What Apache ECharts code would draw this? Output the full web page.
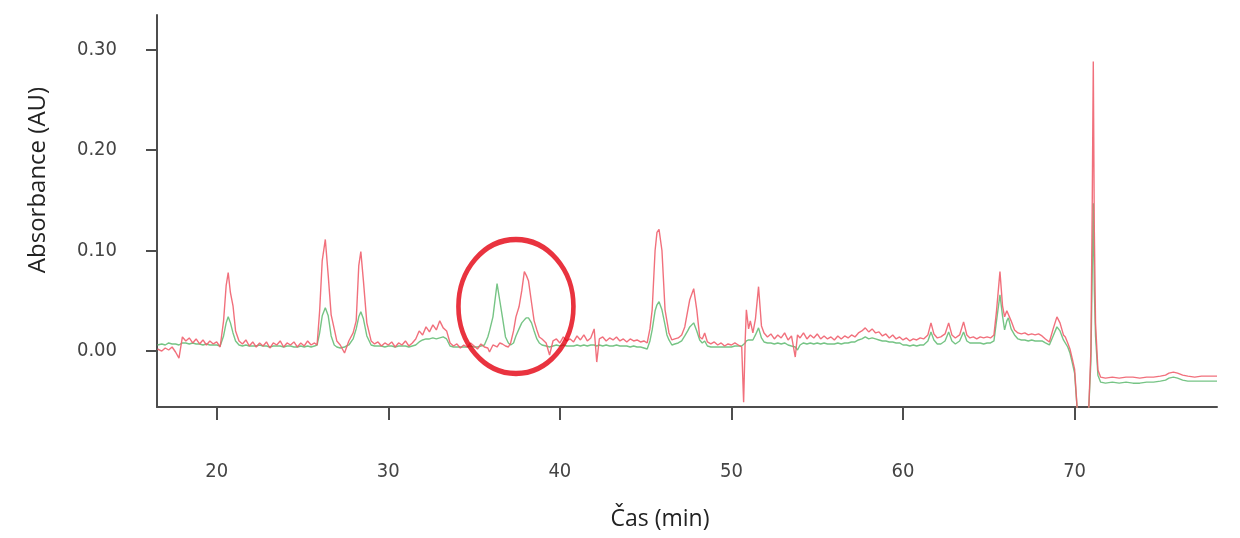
<!DOCTYPE html>
<html>
<head>
<meta charset="utf-8">
<script src="https://cdn.jsdelivr.net/npm/echarts@6/dist/echarts.min.js"></script>
<style>html,body{margin:0;padding:0;background:#fff}#c{width:1240px;height:538px}</style>
</head>
<body>
<div id="c"></div>
<script>
// retention time (min)
const timeMin = [
16.55,16.8,17.0,17.2,17.4,17.6,17.8,18.0,18.2,18.4,18.6,18.8,19.0,19.2,19.4,19.6,19.8,20.0,20.2,20.4,20.55,20.67,20.8,20.95,21.1,21.3,21.5,21.7,21.9,22.1,22.3,22.5,22.7,22.9,23.1,23.3,23.5,23.7,23.9,24.1,24.3,24.5,24.7,24.9,25.1,25.3,25.5,25.7,25.85,26.0,26.15,26.33,26.5,26.67,26.85,27.0,27.2,27.45,27.7,27.95,28.13,28.28,28.4,28.55,28.75,29.0,29.2,29.4,29.6,29.8,30.0,30.2,30.4,30.6,30.8,31.0,31.2,31.4,31.6,31.8,32.0,32.2,32.4,32.6,32.8,33.0,33.2,33.4,33.6,33.8,34.0,34.2,34.4,34.6,34.8,35.0,35.2,35.4,35.6,35.8,35.9,36.1,36.34,36.5,36.65,36.83,37.0,37.13,37.3,37.44,37.62,37.78,37.93,38.05,38.17,38.35,38.5,38.66,38.8,38.96,39.2,39.4,39.6,39.8,40.0,40.2,40.4,40.6,40.8,41.0,41.2,41.4,41.6,41.8,42.0,42.15,42.3,42.5,42.7,42.9,43.1,43.3,43.5,43.7,43.9,44.1,44.3,44.5,44.7,44.9,45.09,45.25,45.38,45.55,45.66,45.78,45.95,46.13,46.24,46.36,46.53,46.7,46.9,47.1,47.28,47.45,47.57,47.8,47.98,48.15,48.3,48.44,48.6,48.8,49.0,49.2,49.4,49.6,49.8,50.0,50.2,50.4,50.6,50.71,50.8,50.87,51.0,51.1,51.25,51.4,51.58,51.75,51.9,52.1,52.3,52.5,52.7,52.9,53.1,53.3,53.5,53.72,53.85,54.0,54.2,54.4,54.6,54.8,55.0,55.2,55.4,55.6,55.8,56.0,56.2,56.4,56.6,56.8,57.0,57.2,57.4,57.6,57.8,58.0,58.2,58.4,58.6,58.8,59.0,59.2,59.4,59.6,59.8,60.0,60.2,60.4,60.6,60.8,61.0,61.2,61.45,61.63,61.8,62.0,62.2,62.45,62.66,62.85,63.05,63.3,63.53,63.72,63.9,64.1,64.3,64.5,64.7,64.9,65.1,65.3,65.45,65.65,65.8,65.92,66.05,66.14,66.3,66.5,66.7,66.9,67.1,67.3,67.5,67.7,67.9,68.1,68.3,68.53,68.75,68.97,69.15,69.35,69.46,69.6,69.73,69.87,70.0,70.16,70.5,70.82,70.95,71.03,71.09,71.15,71.22,71.36,71.52,71.8,72.2,72.6,73.0,73.4,73.8,74.2,74.6,75.0,75.3,75.5,75.76,76.0,76.3,76.6,77.0,77.4,77.8,78.3
];
// red trace (AU)
const redAU = [
0.002,0.000,0.003,0.001,0.004,-0.001,-0.007,0.014,0.010,0.013,0.008,0.012,0.007,0.011,0.006,0.010,0.007,0.009,0.004,0.030,0.065,0.078,0.058,0.045,0.020,0.010,0.007,0.011,0.005,0.009,0.004,0.008,0.005,0.009,0.003,0.008,0.006,0.010,0.004,0.008,0.006,0.009,0.004,0.008,0.005,0.010,0.006,0.008,0.006,0.040,0.090,0.111,0.075,0.036,0.022,0.010,0.006,-0.002,0.010,0.018,0.030,0.085,0.099,0.070,0.028,0.010,0.007,0.009,0.005,0.008,0.006,0.009,0.004,0.008,0.006,0.010,0.005,0.008,0.012,0.020,0.016,0.024,0.019,0.026,0.021,0.030,0.023,0.020,0.008,0.005,0.007,0.003,0.006,0.004,0.008,0.005,0.002,0.007,0.004,0.003,-0.001,0.006,0.004,0.008,0.007,0.005,0.004,0.008,0.020,0.034,0.044,0.060,0.079,0.075,0.070,0.048,0.030,0.021,0.014,0.012,0.008,-0.004,0.010,0.012,0.008,0.014,0.010,0.012,0.009,0.015,0.011,0.016,0.010,0.013,0.022,-0.011,0.012,0.014,0.010,0.013,0.011,0.014,0.010,0.012,0.009,0.012,0.010,0.011,0.009,0.010,0.008,0.022,0.041,0.100,0.118,0.121,0.100,0.041,0.030,0.018,0.011,0.012,0.013,0.016,0.024,0.040,0.051,0.062,0.041,0.014,0.012,0.018,0.009,0.007,0.009,0.006,0.008,0.005,0.007,0.006,0.008,0.006,0.004,-0.051,0.010,0.041,0.022,0.030,0.018,0.032,0.064,0.025,0.018,0.014,0.017,0.012,0.016,0.013,0.018,0.011,0.015,-0.006,0.016,0.013,0.018,0.012,0.016,0.013,0.017,0.012,0.015,0.012,0.014,0.011,0.015,0.012,0.015,0.013,0.016,0.014,0.018,0.020,0.023,0.019,0.022,0.018,0.019,0.015,0.017,0.013,0.016,0.012,0.014,0.011,0.013,0.010,0.012,0.011,0.013,0.012,0.016,0.028,0.017,0.013,0.014,0.017,0.028,0.016,0.013,0.016,0.029,0.016,0.013,0.014,0.012,0.014,0.013,0.014,0.013,0.016,0.040,0.079,0.045,0.034,0.040,0.041,0.030,0.021,0.018,0.017,0.018,0.016,0.017,0.016,0.017,0.015,0.012,0.009,0.022,0.034,0.028,0.016,0.014,0.008,0.002,-0.008,-0.018,-0.060,-0.090,-0.060,0.000,0.150,0.288,0.120,0.028,-0.019,-0.026,-0.027,-0.026,-0.027,-0.026,-0.026,-0.027,-0.026,-0.026,-0.025,-0.024,-0.022,-0.021,-0.022,-0.024,-0.025,-0.026,-0.025,-0.025,-0.025
];
// green trace (AU)
const greenAU = [
0.006,0.007,0.006,0.008,0.007,0.007,0.006,0.008,0.008,0.007,0.008,0.007,0.007,0.006,0.007,0.006,0.006,0.006,0.005,0.015,0.028,0.034,0.028,0.018,0.010,0.006,0.005,0.006,0.005,0.005,0.005,0.006,0.005,0.005,0.004,0.005,0.005,0.005,0.004,0.005,0.005,0.004,0.004,0.005,0.004,0.005,0.004,0.005,0.006,0.018,0.035,0.043,0.035,0.015,0.006,0.004,0.003,0.004,0.006,0.012,0.022,0.034,0.039,0.032,0.015,0.006,0.005,0.005,0.005,0.004,0.005,0.005,0.004,0.005,0.005,0.005,0.004,0.005,0.006,0.009,0.011,0.012,0.012,0.013,0.012,0.013,0.014,0.012,0.005,0.004,0.004,0.004,0.004,0.004,0.005,0.004,0.004,0.005,0.006,0.014,0.020,0.034,0.067,0.050,0.034,0.014,0.008,0.006,0.008,0.015,0.022,0.028,0.031,0.033,0.033,0.028,0.020,0.012,0.008,0.006,0.005,0.004,0.005,0.006,0.005,0.006,0.005,0.005,0.005,0.006,0.005,0.006,0.005,0.006,0.006,0.005,0.006,0.005,0.006,0.005,0.005,0.006,0.005,0.005,0.005,0.004,0.005,0.004,0.004,0.003,0.002,0.010,0.021,0.040,0.046,0.049,0.041,0.026,0.016,0.011,0.006,0.007,0.008,0.010,0.015,0.020,0.024,0.028,0.020,0.011,0.008,0.010,0.005,0.004,0.004,0.004,0.004,0.004,0.004,0.004,0.005,0.005,0.005,0.006,0.008,0.010,0.011,0.010,0.011,0.016,0.023,0.013,0.009,0.008,0.008,0.007,0.008,0.007,0.008,0.006,0.005,0.004,0.001,0.006,0.008,0.007,0.008,0.007,0.008,0.007,0.008,0.007,0.007,0.007,0.008,0.007,0.008,0.008,0.009,0.009,0.011,0.012,0.014,0.012,0.013,0.012,0.011,0.010,0.010,0.009,0.009,0.008,0.008,0.006,0.006,0.005,0.006,0.005,0.006,0.006,0.010,0.019,0.011,0.007,0.007,0.010,0.019,0.010,0.007,0.010,0.019,0.010,0.008,0.008,0.008,0.008,0.007,0.008,0.008,0.010,0.030,0.056,0.035,0.021,0.030,0.033,0.022,0.016,0.012,0.011,0.011,0.010,0.011,0.010,0.010,0.010,0.008,0.006,0.015,0.024,0.020,0.011,0.010,0.004,-0.002,-0.012,-0.022,-0.060,-0.090,-0.060,-0.010,0.080,0.147,0.060,0.015,-0.024,-0.031,-0.032,-0.031,-0.032,-0.031,-0.032,-0.032,-0.031,-0.031,-0.030,-0.029,-0.027,-0.026,-0.027,-0.029,-0.030,-0.030,-0.030,-0.030,-0.030
];
const xTicks = [20, 30, 40, 50, 60, 70];
const yTicks = [0, 0.1, 0.2, 0.3];
const circledRegion = [[37.44, 0.0443]];

const red = timeMin.map((t, i) => [t, redAU[i]]);
const green = timeMin.map((t, i) => [t, greenAU[i]]);

const chart = echarts.init(document.getElementById('c'), null, {renderer: 'canvas'});
chart.setOption({
  animation: false,
  backgroundColor: '#ffffff',
  grid: {left: 157, top: 15, right: 23, bottom: 131, containLabel: false},
  xAxis: {
    type: 'value', min: 16.52, max: 78.3,
    name: 'Čas (min)', nameLocation: 'middle', nameGap: 101,
    nameTextStyle: {fontFamily: 'Open Sans', fontSize: 23, color: '#222', padding: [0, 54, 0, 0]},
    axisLine: {show: true, onZero: false, lineStyle: {color: '#4d4d4d', width: 2}},
    axisTick: {show: true, inside: false, length: 13, customValues: xTicks, lineStyle: {color: '#4d4d4d', width: 2}},
    axisLabel: {customValues: xTicks, margin: 55, fontFamily: 'DejaVu Sans Condensed', fontSize: 20, color: '#444'},
    splitLine: {show: false}
  },
  yAxis: {
    type: 'value', min: -0.0557, max: 0.3343,
    name: 'Absorbance (AU)', nameLocation: 'middle', nameGap: 107, nameRotate: 90,
    nameTextStyle: {fontFamily: 'Open Sans', fontSize: 24, color: '#222', padding: [0, 0, 0, 62]},
    axisLine: {show: true, onZero: false, lineStyle: {color: '#4d4d4d', width: 2}},
    axisTick: {show: true, inside: false, length: 11, customValues: yTicks, lineStyle: {color: '#4d4d4d', width: 2}},
    axisLabel: {customValues: yTicks, margin: 40, fontFamily: 'DejaVu Sans Condensed', fontSize: 20, color: '#444',
      formatter: v => v.toFixed(2)},
    splitLine: {show: false}
  },
  series: [
    {type: 'line', name: 'green', data: green, showSymbol: false, clip: true,
     lineStyle: {color: '#76c485', width: 1.4}, z: 2},
    {type: 'line', name: 'red', data: red, showSymbol: false, clip: true,
     lineStyle: {color: '#f0606e', width: 1.4, opacity: 0.9}, z: 3},
    {type: 'scatter', data: circledRegion, symbol: 'circle', symbolSize: [115, 134], silent: true, z: 5,
     itemStyle: {color: 'rgba(0,0,0,0)', borderColor: '#e3000f', borderWidth: 5}}
  ]
});
</script>
</body>
</html>
